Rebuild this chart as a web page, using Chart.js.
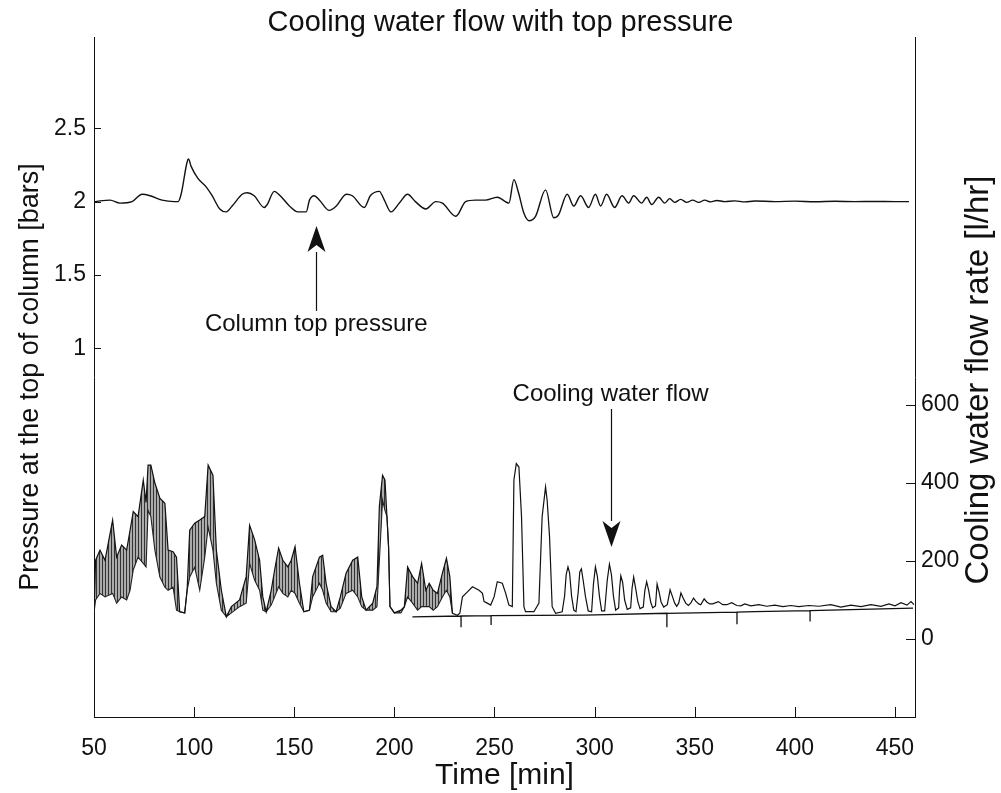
<!DOCTYPE html>
<html><head><meta charset="utf-8">
<script src="https://cdn.jsdelivr.net/npm/chart.js@4/dist/chart.umd.min.js"></script>
<style>html,body{margin:0;padding:0;background:#fff;}#wrap{width:1001px;height:793px;}</style>
</head><body><div id="wrap"><canvas id="c" width="1001" height="793"></canvas></div>
<script>
// ---- data ----
const timeTicks = [50, 100, 150, 200, 250, 300, 350, 400, 450];
const pressureTicks = [1, 1.5, 2, 2.5];
const flowTicks = [0, 200, 400, 600];

const pressureT = [50.5,53,58,63,69,74,78,84,90,92,93.5,96.5,97.2,98.5,101.8,106,109,112.8,116,119,124,126.5,130,135,136.5,140,143,147.6,151.8,156,157.6,160,162.6,167.5,171,176,179,185,188,192.5,195,198.3,202.5,206.6,210.5,215.7,220.7,224,230.7,235.6,240.5,245.5,251.4,257.2,259.7,262,264.7,267.2,270.5,275.5,279.6,282,286.3,289.6,293,297,300.4,303,306,310,313.7,317,319.5,323.5,326,328.5,332,335,337.5,340,343,346,349,352,355,358,361,365,370,375,380,390,400,410,420,430,440,450,457];
const pressureP = [2.00,2.005,2.01,1.99,2.0,2.05,2.04,2.01,2.0,2.0,2.05,2.27,2.29,2.24,2.16,2.10,2.04,1.95,1.93,1.97,2.05,2.06,2.04,1.96,1.98,2.07,2.04,1.97,1.93,1.93,2.01,2.04,2.01,1.94,1.97,2.05,2.04,1.96,2.04,2.07,2.01,1.93,1.99,2.05,2.0,1.95,2.0,1.99,1.90,2.0,2.01,2.01,2.03,1.99,2.15,2.06,1.92,1.87,1.90,2.08,1.89,1.91,2.05,1.97,2.04,1.96,2.05,1.97,2.05,1.96,2.04,1.99,2.04,1.99,2.03,1.98,2.03,1.99,2.02,1.995,2.015,1.995,2.01,1.995,2.01,1.998,2.008,2.0,2.005,1.998,2.004,2.0,2.003,1.999,2.002,2.0,2.001,2.0,2.0];

const flowT = [50,50.8,53,55.5,59.3,61.3,63.8,66.3,68,69.6,72,74.6,76,77,78.4,80.4,82.9,85.4,87,89.5,91.2,92.8,95.3,96.5,97.8,100.3,102.8,105.3,107,109.4,111.1,113.6,116.1,118.6,122.7,126,127.7,130.2,132.7,134.3,136,138.5,140.2,142.2,144.3,146.8,148.5,150.4,152.6,154.8,157.6,159.2,162.6,164.2,165.9,168.4,170.9,173,175.9,179.2,181.7,183.7,185.9,189.2,191.3,192.5,194.1,195.3,196.3,197.1,197.8,200,203.3,205,206.6,209.1,211.6,213.6,215.7,217.4,219.4,221.5,224,226,227.7,229,
  231.5,232.7,234,236.5,239,242.3,244,244.8,246.4,248.1,249.8,251.4,253.9,255.6,257.2,258.9,259.7,260.9,262.2,263.5,264.7,265.5,269.7,272.2,273.8,275.5,276.3,277.5,278.8,280.5,283.8,
  285,285.8,286.7,287.5,288.5,289.6,290.7,291.8,292.6,293.4,294.3,295.4,296.8,298.5,299.4,300.4,301.4,302.4,303.5,305,306.3,307.4,308.4,309.4,310.5,312,312.5,313.1,314,315,316.3,318,318.7,319.5,320.5,321.6,322.7,324.3,325.1,326,327,328,329,330.4,331.2,332.2,333.2,334.5,336.3,337.7,338.8,340,341,342,343.1,344.2,345.5,346.8,348,349.4,350.5,352,353,354.7,356,357.5,359,361.8,364,366,368.5,371,373,375,378,382,386,390,394,398,402,407,412,418,423,428,433,438,443,447,450,453,456,458,459.5];
const flowHigh = [67,202,228,202,305,210,241,228,279,327,314,408,350,446,446,400,361,348,228,224,210,70,67,125,279,297,305,314,446,420,228,125,57,83,100,160,292,255,202,108,70,125,177,233,202,185,202,237,143,70,74,160,210,215,143,83,70,108,169,202,210,108,74,92,134,340,420,408,314,237,83,67,74,83,185,160,143,194,125,143,125,117,169,207,160,66,
  61,66,108,121,134,125,117,96,92,87,108,147,143,117,87,83,408,450,441,314,83,70,70,92,314,390,356,262,83,66,70,
  110,165,185,170,110,74,70,120,172,180,150,110,72,70,140,185,160,110,72,72,150,192,165,110,74,80,130,162,145,100,76,80,130,159,130,95,78,82,125,147,125,95,80,85,141,120,95,82,88,126,110,92,84,92,118,105,92,86,92,105,97,90,88,103,95,90,90,96,88,88,93,86,85,90,85,88,84,87,83,86,83,86,84,88,82,87,83,88,84,90,85,93,87,96,88];
const flowLow = [67,100,117,108,117,92,108,100,125,177,210,194,185,330,314,228,159,133,125,133,74,70,67,125,159,184,125,210,287,228,143,74,57,67,83,92,194,151,125,74,70,87,108,134,117,108,125,117,92,70,74,108,143,125,92,70,70,79,117,125,108,83,74,74,83,200,356,330,314,237,83,67,67,83,108,92,74,83,83,83,74,83,108,125,108,66];

const baseT = [209,233.3,233.3,233.3,248.3,248.3,248.3,295,336.1,336.1,336.1,371.1,371.1,371.1,380,407.6,407.6,407.6,459];
const baseF = [57,59,30,59,60,36,60,61.5,66,30,66,69,38,69,70,73,45,73,79];

// ---- chart ----
const FONT = "'Liberation Sans', Arial, Helvetica, sans-serif";
const pts = (xs, ys) => ys.map((v, i) => ({x: xs[i], y: v}));

const canvas = document.getElementById('c');
const pc = document.createElement('canvas'); pc.width = 3; pc.height = 1;
const pg = pc.getContext('2d');
pg.fillStyle = '#ababab'; pg.fillRect(0, 0, 3, 1);
pg.fillStyle = '#333333'; pg.fillRect(0, 0, 1, 1);
const hatch = canvas.getContext('2d').createPattern(pc, 'repeat');

const notes = [
  {text: 'Column top pressure', x: 161, y: 1.166, axis: 'yP', from: 1.255, to: 1.834},
  {text: 'Cooling water flow', x: 308, y: 628, axis: 'yF', from: 590, to: 236}
];

const decor = {
  id: 'decor',
  afterDraw(chart) {
    const {ctx, chartArea: a, scales} = chart;
    ctx.save();
    ctx.strokeStyle = '#111'; ctx.lineWidth = 1;
    ctx.beginPath();
    scales.x.ticks.forEach(t => { const p = Math.round(scales.x.getPixelForValue(t.value)) + 0.5; ctx.moveTo(p, a.bottom); ctx.lineTo(p, a.bottom - 10); });
    scales.yP.ticks.forEach(t => { const p = Math.round(scales.yP.getPixelForValue(t.value)) + 0.5; ctx.moveTo(a.left, p); ctx.lineTo(a.left + 7, p); });
    scales.yF.ticks.forEach(t => { const p = Math.round(scales.yF.getPixelForValue(t.value)) + 0.5; ctx.moveTo(a.right, p); ctx.lineTo(a.right - 9, p); });
    ctx.stroke();
    // annotations
    ctx.fillStyle = '#111';
    ctx.font = '24px ' + FONT;
    ctx.textAlign = 'center'; ctx.textBaseline = 'middle';
    notes.forEach(n => {
      const s = scales[n.axis];
      const px = Math.round(scales.x.getPixelForValue(n.x)) + 0.5;
      ctx.fillText(n.text, scales.x.getPixelForValue(n.x), s.getPixelForValue(n.y));
      const y0 = s.getPixelForValue(n.from), y1 = s.getPixelForValue(n.to);
      const dir = y1 > y0 ? 1 : -1;
      const head = 26, hw = 9;
      ctx.beginPath(); ctx.moveTo(px, y0); ctx.lineTo(px, y1 - dir * head); ctx.lineWidth = 1.2; ctx.stroke();
      ctx.beginPath(); ctx.moveTo(px, y1); ctx.lineTo(px - hw, y1 - dir * head); ctx.lineTo(px, y1 - dir * (head - 7)); ctx.lineTo(px + hw, y1 - dir * head); ctx.closePath(); ctx.fill();
    });
    // right axis title (reads bottom to top)
    ctx.save();
    ctx.translate(979, (a.top + a.bottom) / 2 + 3);
    ctx.rotate(-Math.PI / 2);
    ctx.font = '33px ' + FONT;
    ctx.fillText('Cooling water flow rate [l/hr]', 0, 0);
    ctx.restore();
    ctx.restore();
  }
};

new Chart(canvas, {
  type: 'line',
  data: {
    datasets: [
      {label: 'Column top pressure', data: pts(pressureT, pressureP), yAxisID: 'yP', borderColor: '#111', borderWidth: 1.4, pointRadius: 0, fill: false, cubicInterpolationMode: 'monotone'},
      {label: 'Cooling water flow', data: pts(flowT, flowHigh), yAxisID: 'yF', borderColor: '#111', borderWidth: 1.2, pointRadius: 0, fill: false, tension: 0},
      {label: 'Cooling water flow (low)', data: pts(flowT, flowLow), yAxisID: 'yF', borderColor: '#222', borderWidth: 1.1, pointRadius: 0, fill: {target: 1}, backgroundColor: hatch, tension: 0},
      {label: 'Baseline', data: pts(baseT, baseF), yAxisID: 'yF', borderColor: '#111', borderWidth: 1.3, pointRadius: 0, fill: false, tension: 0}
    ]
  },
  options: {
    responsive: false, animation: false, devicePixelRatio: 1,
    layout: {padding: 0},
    plugins: {
      legend: {display: false}, tooltip: {enabled: false},
      title: {display: true, text: 'Cooling water flow with top pressure', color: '#111', font: {family: FONT, size: 29, weight: 'normal', lineHeight: 1.0}, padding: {top: 8, bottom: 0}}
    },
    scales: {
      x: {
        type: 'linear', min: 50, max: 460,
        afterBuildTicks: s => { s.ticks = timeTicks.map(v => ({value: v})); },
        afterFit: s => { s.height = 76; },
        grid: {display: false, drawTicks: false},
        border: {display: true, color: '#111', width: 1},
        ticks: {color: '#111', font: {family: FONT, size: 23}, padding: 18, maxRotation: 0, callback: v => String(v)},
        title: {display: true, text: 'Time [min]', color: '#111', font: {family: FONT, size: 30, lineHeight: 1.0}, padding: {top: 0, bottom: 2}}
      },
      yP: {
        type: 'linear', position: 'left', min: -1.513, max: 3.122,
        afterBuildTicks: s => { s.ticks = pressureTicks.map(v => ({value: v})); },
        afterFit: s => { s.width = 94; },
        grid: {display: false, drawTicks: false},
        border: {display: true, color: '#111', width: 1},
        ticks: {color: '#111', font: {family: FONT, size: 23}, padding: 8, callback: v => String(v)},
        title: {display: true, text: 'Pressure at the top of column [bars]', color: '#111', font: {family: FONT, size: 27}, padding: {top: 14, bottom: 0}}
      },
      yF: {
        type: 'linear', position: 'right', min: -200, max: 1544,
        afterBuildTicks: s => { s.ticks = flowTicks.map(v => ({value: v})); },
        afterFit: s => { s.width = 86; },
        grid: {display: false, drawTicks: false},
        border: {display: true, color: '#111', width: 1},
        ticks: {color: '#111', font: {family: FONT, size: 23}, padding: 6, callback: v => String(v)}
      }
    }
  },
  plugins: [decor]
});
</script></body></html>
